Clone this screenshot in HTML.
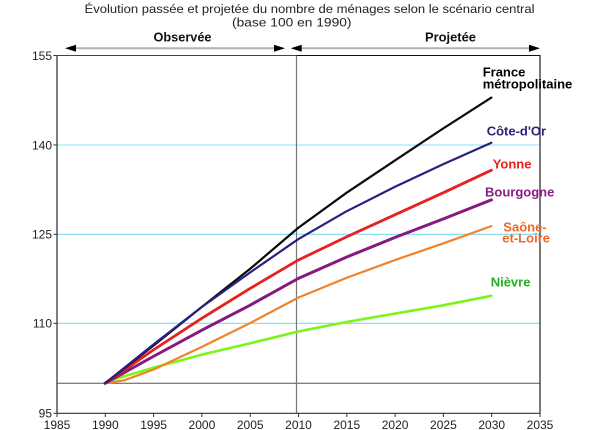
<!DOCTYPE html>
<html><head><meta charset="utf-8"><style>
html,body{margin:0;padding:0;background:#fff;}
svg{display:block;font-family:"Liberation Sans",Arial,sans-serif;}
</style></head><body>
<svg width="601" height="430" viewBox="0 0 601 430" xmlns="http://www.w3.org/2000/svg">
<rect width="601" height="430" fill="#fff"/>
<!-- title -->
<text x="84.5" y="13" font-size="12.2" fill="#222" textLength="450" lengthAdjust="spacingAndGlyphs">Évolution passée et projetée du nombre de ménages selon le scénario central</text>
<text x="232" y="26.5" font-size="12.2" fill="#222" textLength="119.5" lengthAdjust="spacingAndGlyphs">(base 100 en 1990)</text>
<!-- period headers -->
<text x="153.5" y="41.5" font-size="12.5" font-weight="bold" fill="#111" textLength="58" lengthAdjust="spacingAndGlyphs">Observée</text>
<text x="425" y="41.5" font-size="12.5" font-weight="bold" fill="#111" textLength="51" lengthAdjust="spacingAndGlyphs">Projetée</text>
<line x1="72" y1="48.3" x2="280" y2="48.3" stroke="#b4b4b4" stroke-width="2"/>
<polygon points="65,48.3 76,44.8 76,51.8" fill="#000"/>
<polygon points="285,48.3 274,44.8 274,51.8" fill="#000"/>
<line x1="298" y1="48.3" x2="534" y2="48.3" stroke="#b4b4b4" stroke-width="2"/>
<polygon points="290.7,48.3 301.7,44.8 301.7,51.8" fill="#000"/>
<polygon points="540,48.3 529,44.8 529,51.8" fill="#000"/>
<!-- grid -->
<line x1="57" y1="145" x2="540" y2="145" stroke="#aeeefc" stroke-width="1.6"/>
<line x1="57" y1="234.3" x2="540" y2="234.3" stroke="#6ad8f4" stroke-width="1"/>
<line x1="57" y1="323.3" x2="540" y2="323.3" stroke="#6ad8f4" stroke-width="1"/>
<line x1="57" y1="383.3" x2="540" y2="383.3" stroke="#555" stroke-width="1"/>
<line x1="296.5" y1="55" x2="296.5" y2="413.3" stroke="#777" stroke-width="1.2"/>
<!-- frame -->
<line x1="296.5" y1="55.5" x2="540" y2="55.5" stroke="#111" stroke-width="1"/>
<line x1="57" y1="55.5" x2="296.5" y2="55.5" stroke="#444" stroke-width="1"/>
<line x1="540" y1="55" x2="540" y2="413.3" stroke="#222" stroke-width="1.2"/>
<line x1="57" y1="55" x2="57" y2="413.3" stroke="#555" stroke-width="1.5"/>
<line x1="57" y1="413.3" x2="540" y2="413.3" stroke="#333" stroke-width="1.2"/>
<!-- y ticks -->
<g stroke="#333" stroke-width="1">
<line x1="53.5" y1="55.5" x2="57" y2="55.5"/>
<line x1="53.5" y1="145" x2="57" y2="145"/>
<line x1="53.5" y1="234.3" x2="57" y2="234.3"/>
<line x1="53.5" y1="323.3" x2="57" y2="323.3"/>
<line x1="53.5" y1="413.3" x2="57" y2="413.3"/>
</g>
<g font-size="12" fill="#222" text-anchor="end">
<text x="52" y="59.8">155</text>
<text x="52" y="149.3">140</text>
<text x="52" y="238.6">125</text>
<text x="52" y="327.6">110</text>
<text x="52" y="417.6">95</text>
</g>
<!-- x ticks -->
<g stroke="#333" stroke-width="1">
<line x1="57" y1="413" x2="57" y2="417"/>
<line x1="105.3" y1="413" x2="105.3" y2="417"/>
<line x1="153.6" y1="413" x2="153.6" y2="417"/>
<line x1="201.9" y1="413" x2="201.9" y2="417"/>
<line x1="250.2" y1="413" x2="250.2" y2="417"/>
<line x1="298.5" y1="413" x2="298.5" y2="417"/>
<line x1="346.8" y1="413" x2="346.8" y2="417"/>
<line x1="395.1" y1="413" x2="395.1" y2="417"/>
<line x1="443.4" y1="413" x2="443.4" y2="417"/>
<line x1="491.7" y1="413" x2="491.7" y2="417"/>
<line x1="540" y1="413" x2="540" y2="417"/>
</g>
<g font-size="12" fill="#222" text-anchor="middle">
<text x="57" y="429">1985</text>
<text x="105.3" y="429">1990</text>
<text x="153.6" y="429">1995</text>
<text x="201.9" y="429">2000</text>
<text x="250.2" y="429">2005</text>
<text x="298.5" y="429">2010</text>
<text x="346.8" y="429">2015</text>
<text x="395.1" y="429">2020</text>
<text x="443.4" y="429">2025</text>
<text x="491.7" y="429">2030</text>
<text x="540" y="429">2035</text>
</g>
<!-- series -->
<g fill="none" stroke-linejoin="round" stroke-linecap="round">
<polyline stroke="#7df41c" stroke-width="2.6" points="105,383.3 114.66,379.1 124.32,376.2 153.3,367.8 201.6,354.7 249.9,343.4 298.2,331.5 346.5,322.0 394.8,313.6 443.1,305.3 491.4,295.8"/>
<polyline stroke="#f0822a" stroke-width="2.2" points="105,383.3 124.32,380.3 153.3,369.6 201.6,347.0 249.9,323.2 298.2,297.6 346.5,277.9 394.8,260.1 443.1,243.4 491.4,226.1"/>
<polyline stroke="#861a7e" stroke-width="3" points="105,383.3 153.3,356.5 201.6,330.3 249.9,305.3 298.2,278.5 346.5,257.1 394.8,237.5 443.1,219.0 491.4,199.9"/>
<polyline stroke="#e6211f" stroke-width="2.8" points="105,383.3 153.3,350.0 201.6,318.4 249.9,288.6 298.2,260.1 346.5,236.9 394.8,214.8 443.1,192.8 491.4,170.2"/>
<polyline stroke="#0a0a0a" stroke-width="2.2" points="105,383.3 153.3,345.8 201.6,307.1 249.9,269.0 298.2,227.9 346.5,192.8 394.8,160.6 443.1,128.5 491.4,97.6"/>
<polyline stroke="#2b2080" stroke-width="2.2" points="105,383.3 153.3,344.6 201.6,307.1 249.9,272.6 298.2,239.2 346.5,211.3 394.8,186.9 443.1,164.2 491.4,142.8"/>
</g>
<!-- labels -->
<g font-size="13" font-weight="bold">
<text x="482.7" y="76.7" fill="#000">France</text>
<text x="482.7" y="88.5" fill="#000">métropolitaine</text>
<text x="486.7" y="135.7" fill="#2a237f">Côte-d'Or</text>
<text x="492.7" y="168.5" fill="#e5211f">Yonne</text>
<text x="485" y="196.5" fill="#8a1c80">Bourgogne</text>
<text x="503.3" y="231.5" fill="#f0682a">Saône-</text>
<text x="502.3" y="242.5" fill="#f0682a">et-Loire</text>
<text x="490.7" y="286.5" fill="#22b022">Nièvre</text>
</g>
</svg>
</body></html>
